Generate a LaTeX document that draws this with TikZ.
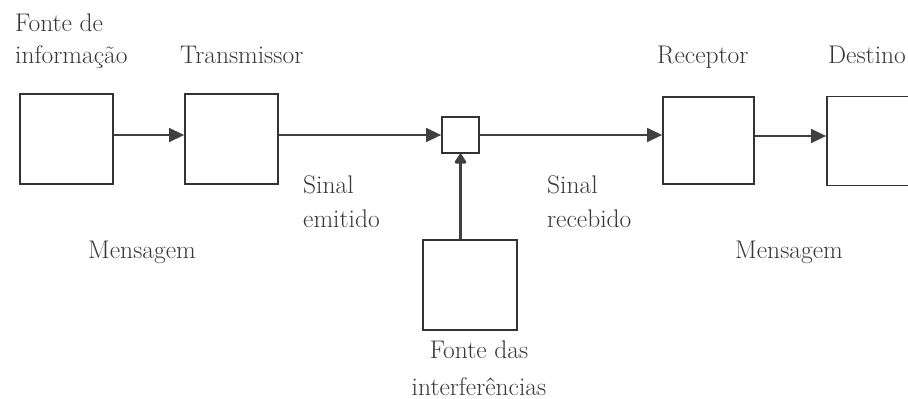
\documentclass[tikz,border=0pt]{standalone}
\usetikzlibrary{arrows.meta}
\begin{document}
\begin{tikzpicture}[x=1pt,y=-1pt,
  block/.style={draw=black!80,line width=1.8pt,fill=white,inner sep=0pt},
  link/.style={draw=black!75,line width=1.5pt,-{Triangle[length=15pt,width=14pt]}},
  feed/.style={draw=black!75,line width=3pt,-{Triangle[length=11pt,width=13pt,round]}},
  lbl/.style={text=black!78,font=\fontsize{25.5}{30}\selectfont,inner sep=0pt}]
  \useasboundingbox (0,0) rectangle (908,399);

  % blocks of the chain
  \node[block,minimum width=93pt,minimum height=90pt] (fonte) at (66.5,139) {};
  \node[block,minimum width=93pt,minimum height=90pt] (trans) at (231.5,139) {};
  \node[block,minimum width=37pt,minimum height=36pt] (mix)   at (460.5,135) {};
  \node[block,minimum width=94pt,minimum height=90pt] (interf) at (470,285) {};
  \node[block,minimum width=91pt,minimum height=87pt] (recep) at (708.5,140.5) {};
  \node[block,minimum width=93pt,minimum height=89pt] (dest)  at (873.5,141) {};

  % connectors
  \draw[link] (fonte.east|-mix.west) -- (trans.west|-mix.west);
  \draw[link] (trans.east|-mix.west) -- (mix.west);
  \draw[link] (mix.east) -- (recep.west|-mix.east);
  \draw[link] (recep.east|-0,136) -- (dest.west|-0,136);
  \draw[feed] (mix.south|-interf.north) -- (mix.south);

  % labels
  \node[lbl,anchor=base west] (t1) at (15,31) {Fonte de};
  \node[lbl,anchor=base west] (t2) at (15,63) {informação};
  \node[lbl,anchor=base west] (t3) at (180,63) {Transmissor};
  \node[lbl,anchor=base west] (t4) at (657,63) {Receptor};
  \node[lbl,anchor=base west] (t5) at (828,63) {Destino};
  \node[lbl,anchor=base west] (t6) at (303,193) {Sinal};
  \node[lbl,anchor=base west] (t7) at (303,227) {emitido};
  \node[lbl,anchor=base west] (t8) at (547,193) {Sinal};
  \node[lbl,anchor=base west] (t9) at (547,227) {recebido};
  \node[lbl,anchor=base west] (t10) at (88,258) {Mensagem};
  \node[lbl,anchor=base west] (t11) at (735,258) {Mensagem};
  \node[lbl,anchor=base] (t12) at (479,358) {Fonte das};
  \node[lbl,anchor=base] (t13) at (479,395) {interferências};
\end{tikzpicture}
\end{document}
